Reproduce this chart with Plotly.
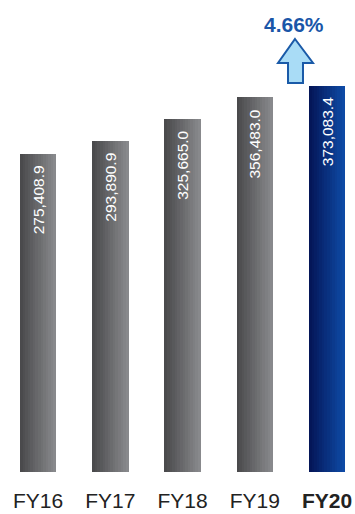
import plotly.graph_objects as go

# Revenue by fiscal year
years = ["FY16", "FY17", "FY18", "FY19", "FY20"]
revenue = [275408.9, 293890.9, 325665.0, 356483.0, 373083.4]
value_labels = ["275,408.9", "293,890.9", "325,665.0", "356,483.0", "373,083.4"]
tick_labels = ["FY16", "FY17", "FY18", "FY19", "<b>FY20</b>"]

# Value axis starts below zero so year-on-year differences read clearly
AXIS_FLOOR = -181000
AXIS_TOP = 496000

W, H = 355, 514
M_BOTTOM = 42
BAR_WIDTH = 0.5
STRIPS = 14


def lerp(c1, c2, t):
    return "rgb({},{},{})".format(*[round(a + (b - a) * t) for a, b in zip(c1, c2)])


gray_left, gray_right = (74, 74, 76), (136, 137, 140)
blue_left, blue_right = (4, 22, 88), (14, 74, 165)

fig = go.Figure()

# Each bar is built from narrow vertical strips to get a left-to-right shading
strip_w = BAR_WIDTH / STRIPS
for k in range(STRIPS):
    t = k / (STRIPS - 1)
    colors = [lerp(gray_left, gray_right, t)] * (len(years) - 1) + [lerp(blue_left, blue_right, t)]
    fig.add_trace(go.Bar(
        x=years,
        y=[v - AXIS_FLOOR for v in revenue],
        base=AXIS_FLOOR,
        width=strip_w * 1.08,
        offset=-BAR_WIDTH / 2 + k * strip_w,
        marker=dict(color=colors, line=dict(width=0)),
        hoverinfo="skip",
        showlegend=False,
    ))

# Values written vertically inside the top of each bar
for yr, v, lab in zip(years, revenue, value_labels):
    fig.add_annotation(
        x=yr, y=v, text=lab, textangle=-90, showarrow=False,
        xanchor="center", yanchor="top", yshift=-10,
        font=dict(family="Liberation Sans, Arial", size=15.5, color="white"),
    )

# Growth of the latest year over the previous one
growth = (revenue[-1] / revenue[-2] - 1) * 100


def px(xp):
    return xp / W


def py(yp):
    return (H - M_BOTTOM - yp) / (H - M_BOTTOM)


arrow_pts = [(295, 39), (313, 63), (303, 63), (303, 83), (288, 83), (288, 63), (278, 63)]
path = "M " + " L ".join(f"{px(a):.4f},{py(b):.4f}" for a, b in arrow_pts) + " Z"
fig.add_shape(type="path", xref="paper", yref="paper", path=path,
              fillcolor="#a9dcf6", line=dict(color="#1a5aa8", width=2))

fig.add_annotation(
    xref="paper", yref="paper", x=px(294), y=py(25),
    text=f"<b>{growth:.2f}%</b>", showarrow=False,
    xanchor="center", yanchor="middle",
    font=dict(family="Liberation Sans, Arial", size=21, color="#1a56a8"),
)

fig.update_layout(
    width=W, height=H,
    margin=dict(l=0, r=0, t=0, b=M_BOTTOM),
    barmode="overlay",
    bargap=0,
    plot_bgcolor="white",
    paper_bgcolor="white",
    xaxis=dict(
        type="category",
        range=[-38 / 72.25, (W - 38) / 72.25],
        tickvals=years, ticktext=tick_labels,
        showgrid=False, zeroline=False, showline=False, ticks="",
        tickfont=dict(family="Liberation Sans, Arial", size=21, color="#222222"),
        ticklabelstandoff=14,
    ),
    yaxis=dict(
        range=[AXIS_FLOOR, AXIS_TOP],
        visible=False, showgrid=False, zeroline=False,
    ),
)

fig.write_html("out.html")
